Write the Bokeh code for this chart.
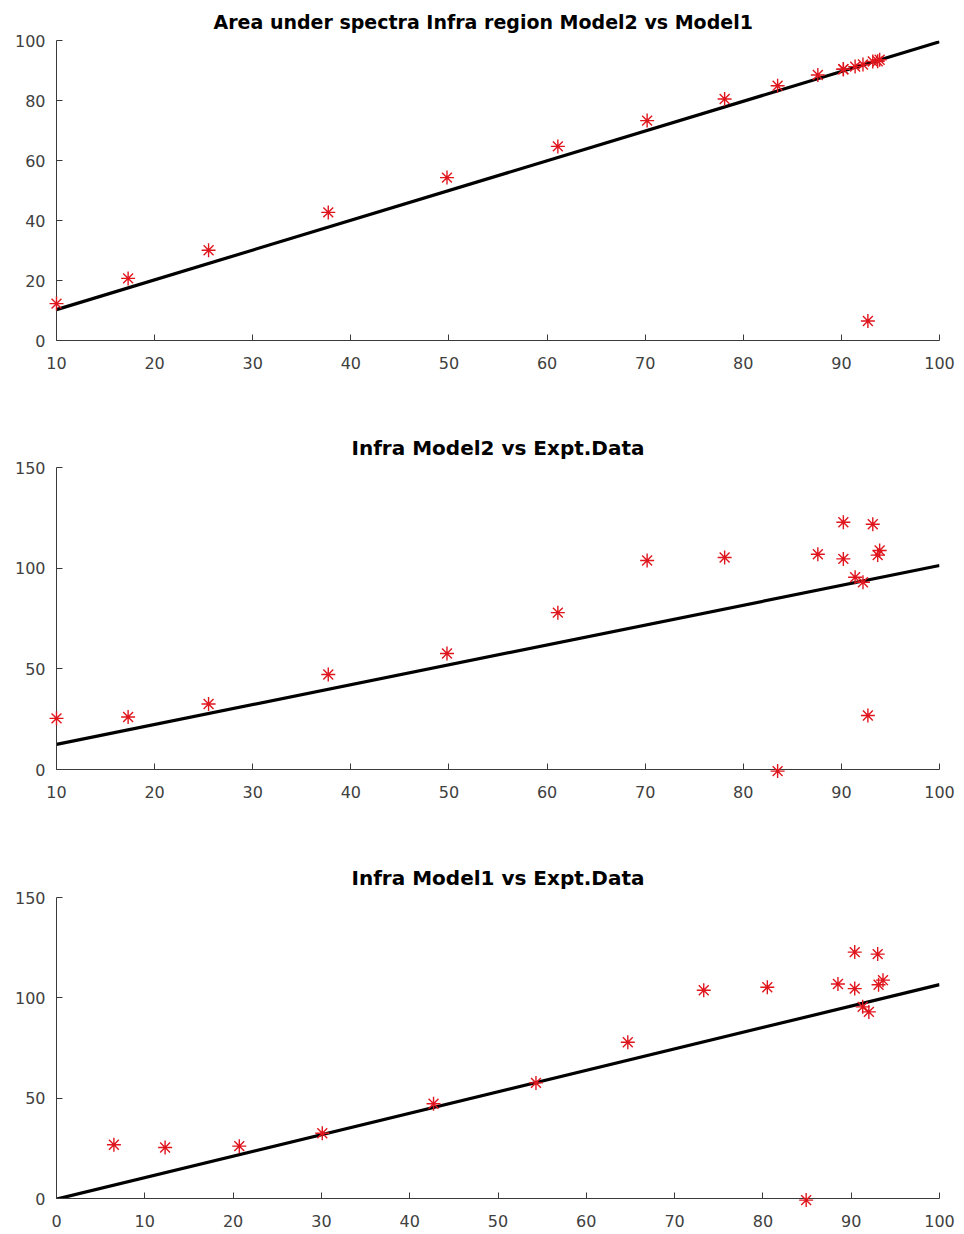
from bokeh.plotting import figure
from bokeh.layouts import column
from bokeh.models import Range1d, FixedTicker
from bokeh.embed import file_html
from bokeh.resources import INLINE

# ---- data (one entry per sample) ----
model2 = [10.0, 17.3, 25.5, 37.7, 49.8, 61.1, 70.2, 78.1, 83.5, 87.6,
          90.2, 90.2, 91.4, 92.2, 93.2, 93.7, 93.9, 92.7]
model1 = [12.3, 20.7, 30.1, 42.7, 54.3, 64.7, 73.3, 80.5, 84.9, 88.5,
          90.4, 90.4, 91.3, 92.0, 93.0, 93.1, 93.6, 6.5]
expt = [25.4, 26.1, 32.5, 47.2, 57.6, 77.9, 103.8, 105.3, -0.8, 106.9,
        104.6, 122.8, 95.5, 93.0, 121.8, 106.5, 108.8, 26.8]

titles = ["Area under spectra Infra region Model2 vs Model1",
          "Infra Model2 vs Expt.Data",
          "Infra Model1 vs Expt.Data"]
fit_slope = [0.992, 0.987, 1.069]
fit_intercept = [0.38, 2.63, -0.3]
x_limits = [(10, 100), (10, 100), (0, 100)]
y_limits = [(0, 100), (0, 150), (0, 150)]
x_ticks = [list(range(10, 101, 10)), list(range(10, 101, 10)), list(range(0, 101, 10))]
y_ticks = [[0, 20, 40, 60, 80, 100], [0, 50, 100, 150], [0, 50, 100, 150]]
pairs = [(model2, model1), (model2, expt), (model1, expt)]

# ---- layout (pixels) ----
heights = [420, 430, 384]
borders_top = [40, 47, 47]
borders_bottom = [80, 81, 36]
borders_left = [56, 56, 55]
title_align = ["left", "center", "center"]
title_offsets = [157, 0, 0]
title_sizes = ["19px", "20px", "20px"]
title_standoffs = [16, 15, 15]

AXIS_COLOR = "#3a3a3a"
LABEL_COLOR = "#404040"

figs = []
for i in range(3):
    p = figure(width=964, height=heights[i], output_backend="svg",
               toolbar_location=None,
               x_range=Range1d(*x_limits[i]), y_range=Range1d(*y_limits[i]),
               min_border_left=borders_left[i], min_border_right=25,
               min_border_top=borders_top[i], min_border_bottom=borders_bottom[i])
    p.outline_line_color = None
    p.xgrid.visible = False
    p.ygrid.visible = False
    p.background_fill_color = "white"
    p.border_fill_color = "white"

    p.title.text = titles[i]
    p.title.align = title_align[i]
    p.title.offset = title_offsets[i]
    p.title.standoff = title_standoffs[i]
    p.title.text_font = "DejaVu Sans"
    p.title.text_font_size = title_sizes[i]
    p.title.text_font_style = "bold"
    p.title.text_color = "black"

    for ax, ticks in ((p.xaxis, x_ticks[i]), (p.yaxis, y_ticks[i])):
        ax.ticker = FixedTicker(ticks=ticks)
        ax.axis_line_color = AXIS_COLOR
        ax.axis_line_width = 1
        ax.major_tick_line_color = AXIS_COLOR
        ax.major_tick_in = 6
        ax.major_tick_out = 0
        ax.minor_tick_line_color = None
        ax.major_label_text_font = "DejaVu Sans"
        ax.major_label_text_font_size = "16px"
        ax.major_label_text_color = LABEL_COLOR
    p.xaxis.major_label_standoff = 16
    p.yaxis.major_label_standoff = 11

    x0, x1 = x_limits[i]
    p.line([x0, x1],
           [fit_slope[i] * x0 + fit_intercept[i], fit_slope[i] * x1 + fit_intercept[i]],
           line_color="black", line_width=3.2)

    xs, ys = pairs[i]
    p.scatter(xs, ys, marker="asterisk", size=14, line_color="#e0161e",
              line_width=1.4, level="overlay")
    figs.append(p)

layout = column(*figs, spacing=0)
open("out.html", "w").write(file_html(layout, INLINE))
